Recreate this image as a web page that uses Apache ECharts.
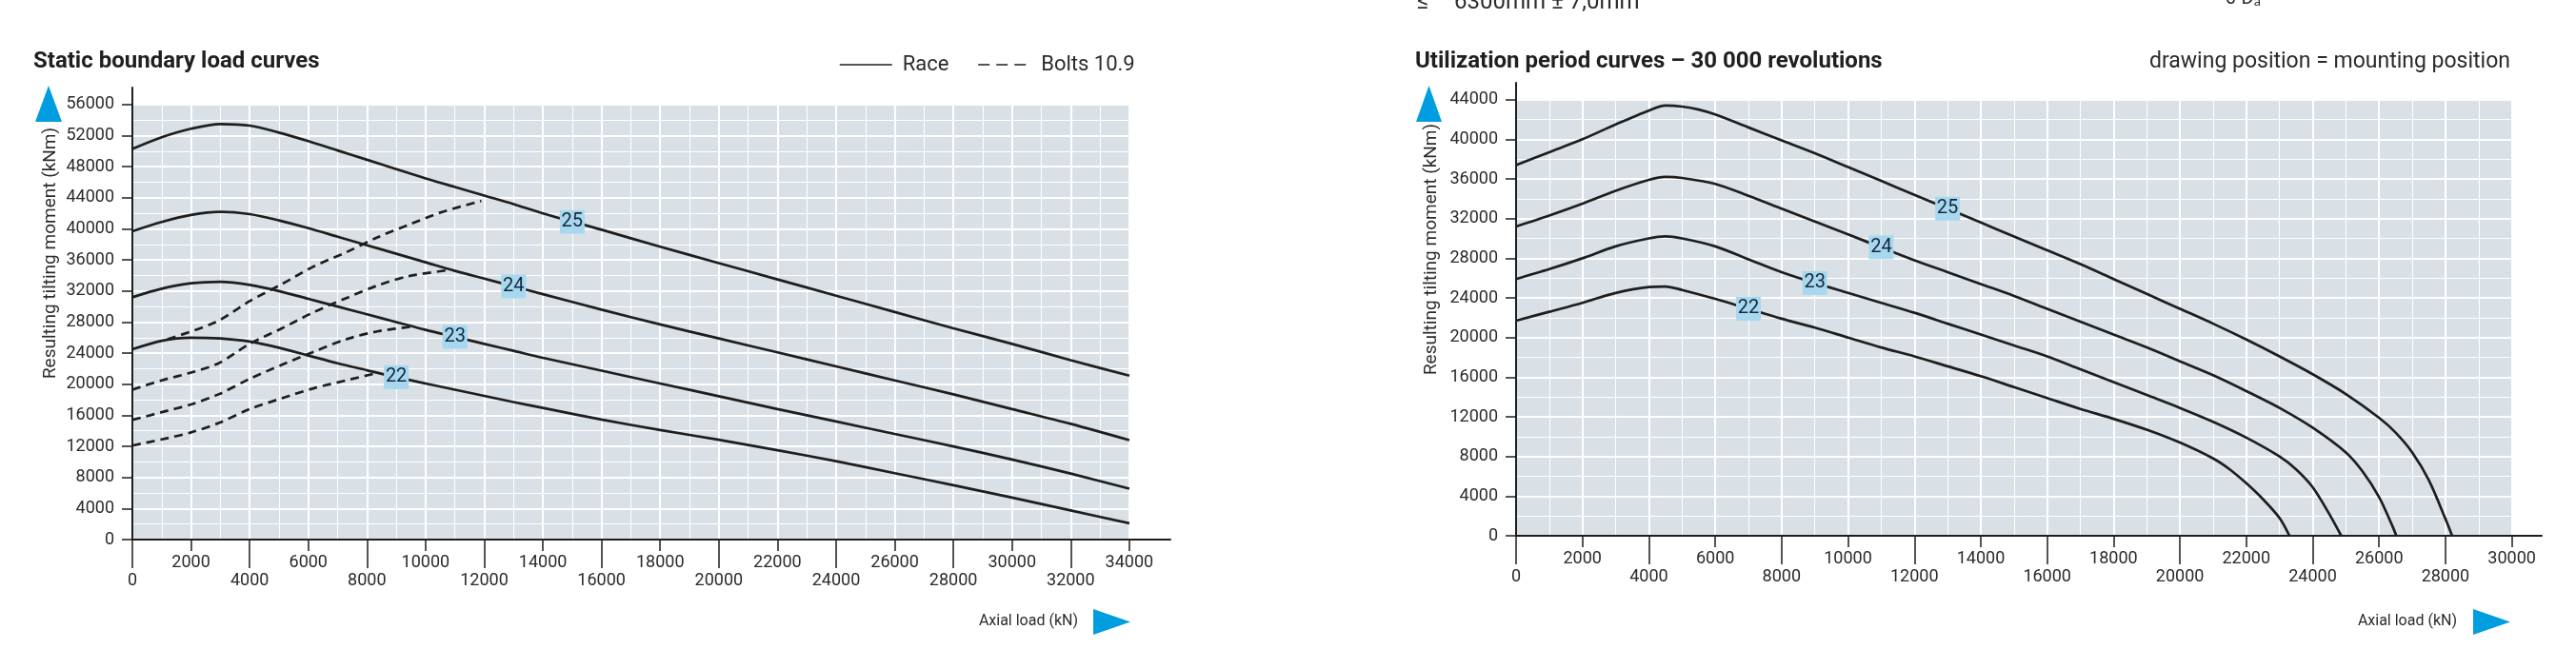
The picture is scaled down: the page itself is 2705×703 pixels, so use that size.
<!DOCTYPE html>
<html>
<head>
<meta charset="utf-8">
<title>Load curves</title>
<script src="https://cdn.jsdelivr.net/npm/echarts@6/dist/echarts.min.js"></script>
<style>
  html, body { margin: 0; padding: 0; background: #fff; }
  #chart { width: 2705px; height: 703px; }
</style>
</head>
<body>
<div id="chart"></div>
<script>
// --- left: static boundary load curves (axial load kN -> tilting moment kNm)
const staticLoad = [0, 1000, 2000, 3000, 4000, 5000, 6000, 7000, 8000, 9000, 10000, 11000, 12000, 13000, 14000,
  16000, 18000, 20000, 22000, 24000, 26000, 28000, 30000, 32000, 34000];
const race22 = [24500, 25600, 26000, 25900, 25500, 24700, 23700, 22700, 21800, 20900, 20100, 19300, 18500, 17700, 16950,
  15450, 14100, 12850, 11500, 10100, 8550, 7000, 5400, 3750, 2100];
const race23 = [31200, 32300, 33000, 33200, 32800, 32000, 31000, 30000, 29000, 28000, 27000, 26100, 25200, 24300, 23400,
  21750, 20100, 18450, 16800, 15200, 13600, 12000, 10300, 8500, 6550];
const race24 = [39700, 40900, 41800, 42200, 41900, 41100, 40100, 39000, 37900, 36800, 35700, 34600, 33600, 32600, 31600,
  29600, 27700, 25900, 24100, 22300, 20500, 18700, 16800, 14900, 12800];
const race25 = [50300, 51800, 52900, 53500, 53300, 52400, 51300, 50100, 48900, 47700, 46500, 45400, 44300, 43200, 42000,
  39900, 37700, 35600, 33500, 31400, 29300, 27200, 25200, 23100, 21100];

// bolts 10.9 (dashed)
const bolt22Load = [0, 1000, 2000, 2940, 4000, 5100, 6200, 7300, 8400];
const bolt22Moment = [12100, 12900, 13800, 15000, 16800, 18200, 19500, 20500, 21500];
const bolt23Load = [0, 1000, 2000, 2940, 4000, 5100, 6200, 7300, 8350, 9500];
const bolt23Moment = [15400, 16400, 17400, 18700, 20700, 22500, 24200, 25800, 26800, 27400];
const bolt24Load = [0, 1000, 2000, 2940, 4000, 5100, 6200, 7300, 8350, 9400, 10800];
const bolt24Moment = [19300, 20500, 21500, 22700, 25200, 27200, 29300, 31100, 32700, 33900, 34700];
const bolt25Load = [1200, 2840, 4000, 5100, 6200, 7300, 8350, 9400, 10500, 11900];
const bolt25Moment = [25800, 28000, 30700, 32900, 35200, 37000, 38900, 40500, 42100, 43600];

const staticTags = ['22', '23', '24', '25'];
const staticTagLoad = [9000, 11000, 13000, 15000];
const staticTagMoment = [20900, 26100, 32600, 40900];

const staticYTicks = [0, 4000, 8000, 12000, 16000, 20000, 24000, 28000, 32000, 36000, 40000, 44000, 48000, 52000, 56000];
const staticXUpper = [2000, 6000, 10000, 14000, 18000, 22000, 26000, 30000, 34000];
const staticXLower = [0, 4000, 8000, 12000, 16000, 20000, 24000, 28000, 32000];

// --- right: utilization period curves, 30 000 revolutions
const util22Load = [0, 1000, 2000, 3000, 4000, 4500, 5000, 6000, 7000, 8000, 9000, 10000, 11000, 12000, 13000, 14000,
  15000, 16000, 17000, 18000, 19000, 20000, 21000, 21500, 22000, 22500, 23000, 23300];
const util22Moment = [21700, 22600, 23500, 24500, 25100, 25150, 24800, 23900, 22900, 21900, 21000, 20000, 19000, 18100, 17100, 16100,
  15000, 13900, 12800, 11800, 10700, 9400, 7800, 6700, 5300, 3700, 1800, 0];
const util23Load = [0, 1000, 2000, 3000, 4000, 4500, 5000, 6000, 7000, 8000, 9000, 10000, 11000, 12000, 13000, 14000,
  15000, 16000, 17000, 18000, 19000, 20000, 21000, 22000, 23000, 23500, 24000, 24500, 24860];
const util23Moment = [25900, 26900, 28000, 29200, 30000, 30200, 30000, 29200, 27900, 26600, 25500, 24500, 23500, 22500, 21400, 20300,
  19200, 18100, 16800, 15500, 14200, 12900, 11500, 9900, 8000, 6700, 4900, 2200, 0];
const util24Load = [0, 1000, 2000, 3000, 4000, 4500, 5000, 6000, 7000, 8000, 9000, 10000, 11000, 12000, 13000, 14000,
  15000, 16000, 17000, 18000, 19000, 20000, 21000, 22000, 23000, 24000, 25000, 25500, 26000, 26400, 26520];
const util24Moment = [31200, 32300, 33500, 34800, 35900, 36200, 36100, 35500, 34300, 33000, 31700, 30400, 29100, 27800, 26600, 25400,
  24200, 22900, 21600, 20300, 19000, 17600, 16200, 14600, 12900, 10900, 8400, 6500, 3900, 1000, 0];
const util25Load = [0, 1000, 2000, 3000, 4000, 4500, 5000, 5500, 6000, 7000, 8000, 9000, 10000, 11000, 12000, 13000, 14000,
  15000, 16000, 17000, 18000, 19000, 20000, 21000, 22000, 23000, 24000, 25000, 26000, 26500, 27000, 27500, 28000, 28200];
const util25Moment = [37400, 38700, 40000, 41500, 42900, 43400, 43300, 43000, 42500, 41200, 39900, 38600, 37200, 35800, 34400, 33000, 31600,
  30200, 28800, 27400, 25900, 24400, 22900, 21400, 19800, 18100, 16300, 14300, 11900, 10400, 8400, 5600, 1700, 0];

const utilTags = ['22', '23', '24', '25'];
const utilTagLoad = [7000, 9000, 11000, 13000];
const utilTagMoment = [22900, 25500, 29100, 33000];

const utilYTicks = [0, 4000, 8000, 12000, 16000, 20000, 24000, 28000, 32000, 36000, 40000, 44000];
const utilXUpper = [2000, 6000, 10000, 14000, 18000, 22000, 26000, 30000];
const utilXLower = [0, 4000, 8000, 12000, 16000, 20000, 24000, 28000];

const FONT = 'Roboto, "Noto Sans", sans-serif';
const INK = '#1e1e1e';
const TEXT = '#2b2b2b';
const BLUE = '#009ee0';
const PANEL = '#dae1e6';
const TAG = '#a8d8f0';

const zip = (xs, ys) => xs.map((x, i) => [x, ys[i]]);
const plain = v => String(v);

// three x axes per panel: grid lines, short ticks + upper labels, long ticks + lower labels
const xAxesFor = (grid, max, upper, lower) => [
  {
    type: 'value', gridIndex: grid, position: 'bottom', min: 0, max: max, interval: 2000, z: 1,
    axisLine: { show: false }, axisTick: { show: false }, axisLabel: { show: false },
    splitLine: { show: true, lineStyle: { color: '#fff', width: 2 } },
    minorTick: { show: false, splitNumber: 2 },
    minorSplitLine: { show: true, lineStyle: { color: '#fff', width: 1 } }
  },
  {
    type: 'value', gridIndex: grid, position: 'bottom', min: 0, max: max, z: 3,
    axisLine: { show: true, onZero: false, lineStyle: { color: INK, width: 2 } },
    axisTick: { show: true, customValues: upper, length: 12, lineStyle: { color: INK, width: 1.5 } },
    axisLabel: { customValues: upper, margin: 15, formatter: plain, fontFamily: FONT, fontSize: 18, color: TEXT },
    splitLine: { show: false }
  },
  {
    type: 'value', gridIndex: grid, position: 'bottom', min: 0, max: max, z: 3,
    axisLine: { show: false, onZero: false },
    axisTick: { show: true, customValues: lower, length: 30, lineStyle: { color: INK, width: 1.5 } },
    axisLabel: { customValues: lower, margin: 34, formatter: plain, fontFamily: FONT, fontSize: 18, color: TEXT },
    splitLine: { show: false }
  }
];

const yAxesFor = (grid, max, ticks) => [
  {
    type: 'value', gridIndex: grid, position: 'left', min: 0, max: max, interval: 4000, z: 1,
    axisLine: { show: false }, axisTick: { show: false }, axisLabel: { show: false },
    splitLine: { show: true, lineStyle: { color: '#fff', width: 2 } },
    minorTick: { show: false, splitNumber: 2 },
    minorSplitLine: { show: true, lineStyle: { color: '#fff', width: 1 } }
  },
  {
    type: 'value', gridIndex: grid, position: 'left', min: 0, max: max, z: 3,
    axisLine: { show: true, onZero: false, lineStyle: { color: INK, width: 2 } },
    axisTick: { show: true, customValues: ticks, length: 11, lineStyle: { color: INK, width: 1.5 } },
    axisLabel: { customValues: ticks, margin: 19, formatter: plain, fontFamily: FONT, fontSize: 18, color: TEXT },
    splitLine: { show: false }
  }
];

// grey plot panel, drawn under the white grid lines
const panel = (xIdx, yIdx, xMax, yMax) => ({
  type: 'line', xAxisIndex: xIdx, yAxisIndex: yIdx, data: [], silent: true, z: 0,
  markArea: {
    silent: true, z: 0, itemStyle: { color: PANEL },
    data: [[{ coord: [0, 0] }, { coord: [xMax, yMax] }]]
  }
});

const curve = (name, xIdx, yIdx, data, dashed, tag) => {
  const s = {
    name: name, type: 'line', xAxisIndex: xIdx, yAxisIndex: yIdx, z: 2,
    data: data, smooth: 0.3, symbol: 'none', showSymbol: false,
    lineStyle: { color: INK, width: 2.7, type: dashed ? [9, 6] : 'solid' },
    itemStyle: { color: INK },
    emphasis: { disabled: true }
  };
  if (tag) {
    s.markPoint = {
      symbol: 'rect', symbolSize: [26, 25], silent: true,
      itemStyle: { color: TAG },
      label: { show: true, color: '#15283a', fontFamily: FONT, fontSize: 20, formatter: '{c}' },
      data: [{ coord: tag.coord, value: tag.text }]
    };
  }
  return s;
};

const series = [
  panel(0, 0, 34000, 56000),
  panel(3, 2, 30000, 44000)
];
[race22, race23, race24, race25].forEach((ys, i) => {
  series.push(curve('Race', 0, 0, zip(staticLoad, ys), false,
    { coord: [staticTagLoad[i], staticTagMoment[i]], text: staticTags[i] }));
});
[[bolt22Load, bolt22Moment], [bolt23Load, bolt23Moment], [bolt24Load, bolt24Moment], [bolt25Load, bolt25Moment]]
  .forEach(b => series.push(curve('Bolts 10.9', 0, 0, zip(b[0], b[1]), true)));
[[util22Load, util22Moment], [util23Load, util23Moment], [util24Load, util24Moment], [util25Load, util25Moment]]
  .forEach((u, i) => {
    series.push(curve('Utilization', 3, 2, zip(u[0], u[1]), false,
      { coord: [utilTagLoad[i], utilTagMoment[i]], text: utilTags[i] }));
  });

const txt = (x, y, text, size, extra, rotation) => ({
  type: 'text', x: x, y: y, rotation: rotation || 0, silent: true,
  style: Object.assign({ text: text, fontFamily: FONT, fontSize: size, fill: TEXT, align: 'left', verticalAlign: 'middle' }, extra || {})
});
const tri = (pts) => ({ type: 'polygon', silent: true, shape: { points: pts }, style: { fill: BLUE } });

const chart = echarts.init(document.getElementById('chart'), null, { renderer: 'canvas' });
chart.setOption({
  animation: false,
  backgroundColor: '#fff',
  grid: [
    { left: 139, top: 92, width: 1090, height: 475 },
    { left: 1592, top: 87, width: 1077, height: 476 }
  ],
  xAxis: xAxesFor(0, 35400, staticXUpper, staticXLower).concat(xAxesFor(1, 30900, utilXUpper, utilXLower)),
  yAxis: yAxesFor(0, 58200, staticYTicks).concat(yAxesFor(1, 45700, utilYTicks)),
  legend: {
    data: [
      { name: 'Race' },
      { name: 'Bolts 10.9', lineStyle: { type: [12, 7] } }
    ],
    left: 876, top: 52, itemWidth: 55, itemHeight: 14, itemGap: 30, selectedMode: false,
    itemStyle: { opacity: 0 },
    lineStyle: { width: 1.5 },
    textStyle: { fontFamily: FONT, fontSize: 22, color: TEXT, padding: [0, 0, 0, 6] }
  },
  series: series,
  graphic: [
    txt(35, 65, 'Static boundary load curves', 24, { fontWeight: 'bold', fill: '#1f1f1f' }),
    txt(1486, 65, 'Utilization period curves \u2013 30 000 revolutions', 24, { fontWeight: 'bold', fill: '#1f1f1f' }),
    txt(2636, 65, 'drawing position = mounting position', 23, { align: 'right' }),
    // fragments of the text above the charts, cut by the top edge
    txt(1488, 15, '\u2264', 24, { verticalAlign: 'bottom' }),
    txt(1527, 15, '6300mm \u00b1 7,0mm', 24, { verticalAlign: 'bottom' }),
    txt(2337, 9, '\u03d1 D\u2090', 20, { verticalAlign: 'bottom' }),
    // axis names
    txt(53, 266, 'Resulting tilting moment (kNm)', 19, { align: 'center' }, Math.PI / 2),
    txt(1503, 262, 'Resulting tilting moment (kNm)', 19, { align: 'center' }, Math.PI / 2),
    txt(1132, 653, 'Axial load (kN)', 16, { align: 'right' }),
    txt(2580, 653, 'Axial load (kN)', 16, { align: 'right' }),
    // blue direction arrows
    tri([[51, 90], [65, 128], [37, 128]]),
    tri([[1500.5, 90], [1514, 128], [1487, 128]]),
    tri([[1148, 640], [1187, 653.5], [1148, 667]]),
    tri([[2597, 640], [2636, 653.5], [2597, 667]])
  ]
});
</script>
</body>
</html>
